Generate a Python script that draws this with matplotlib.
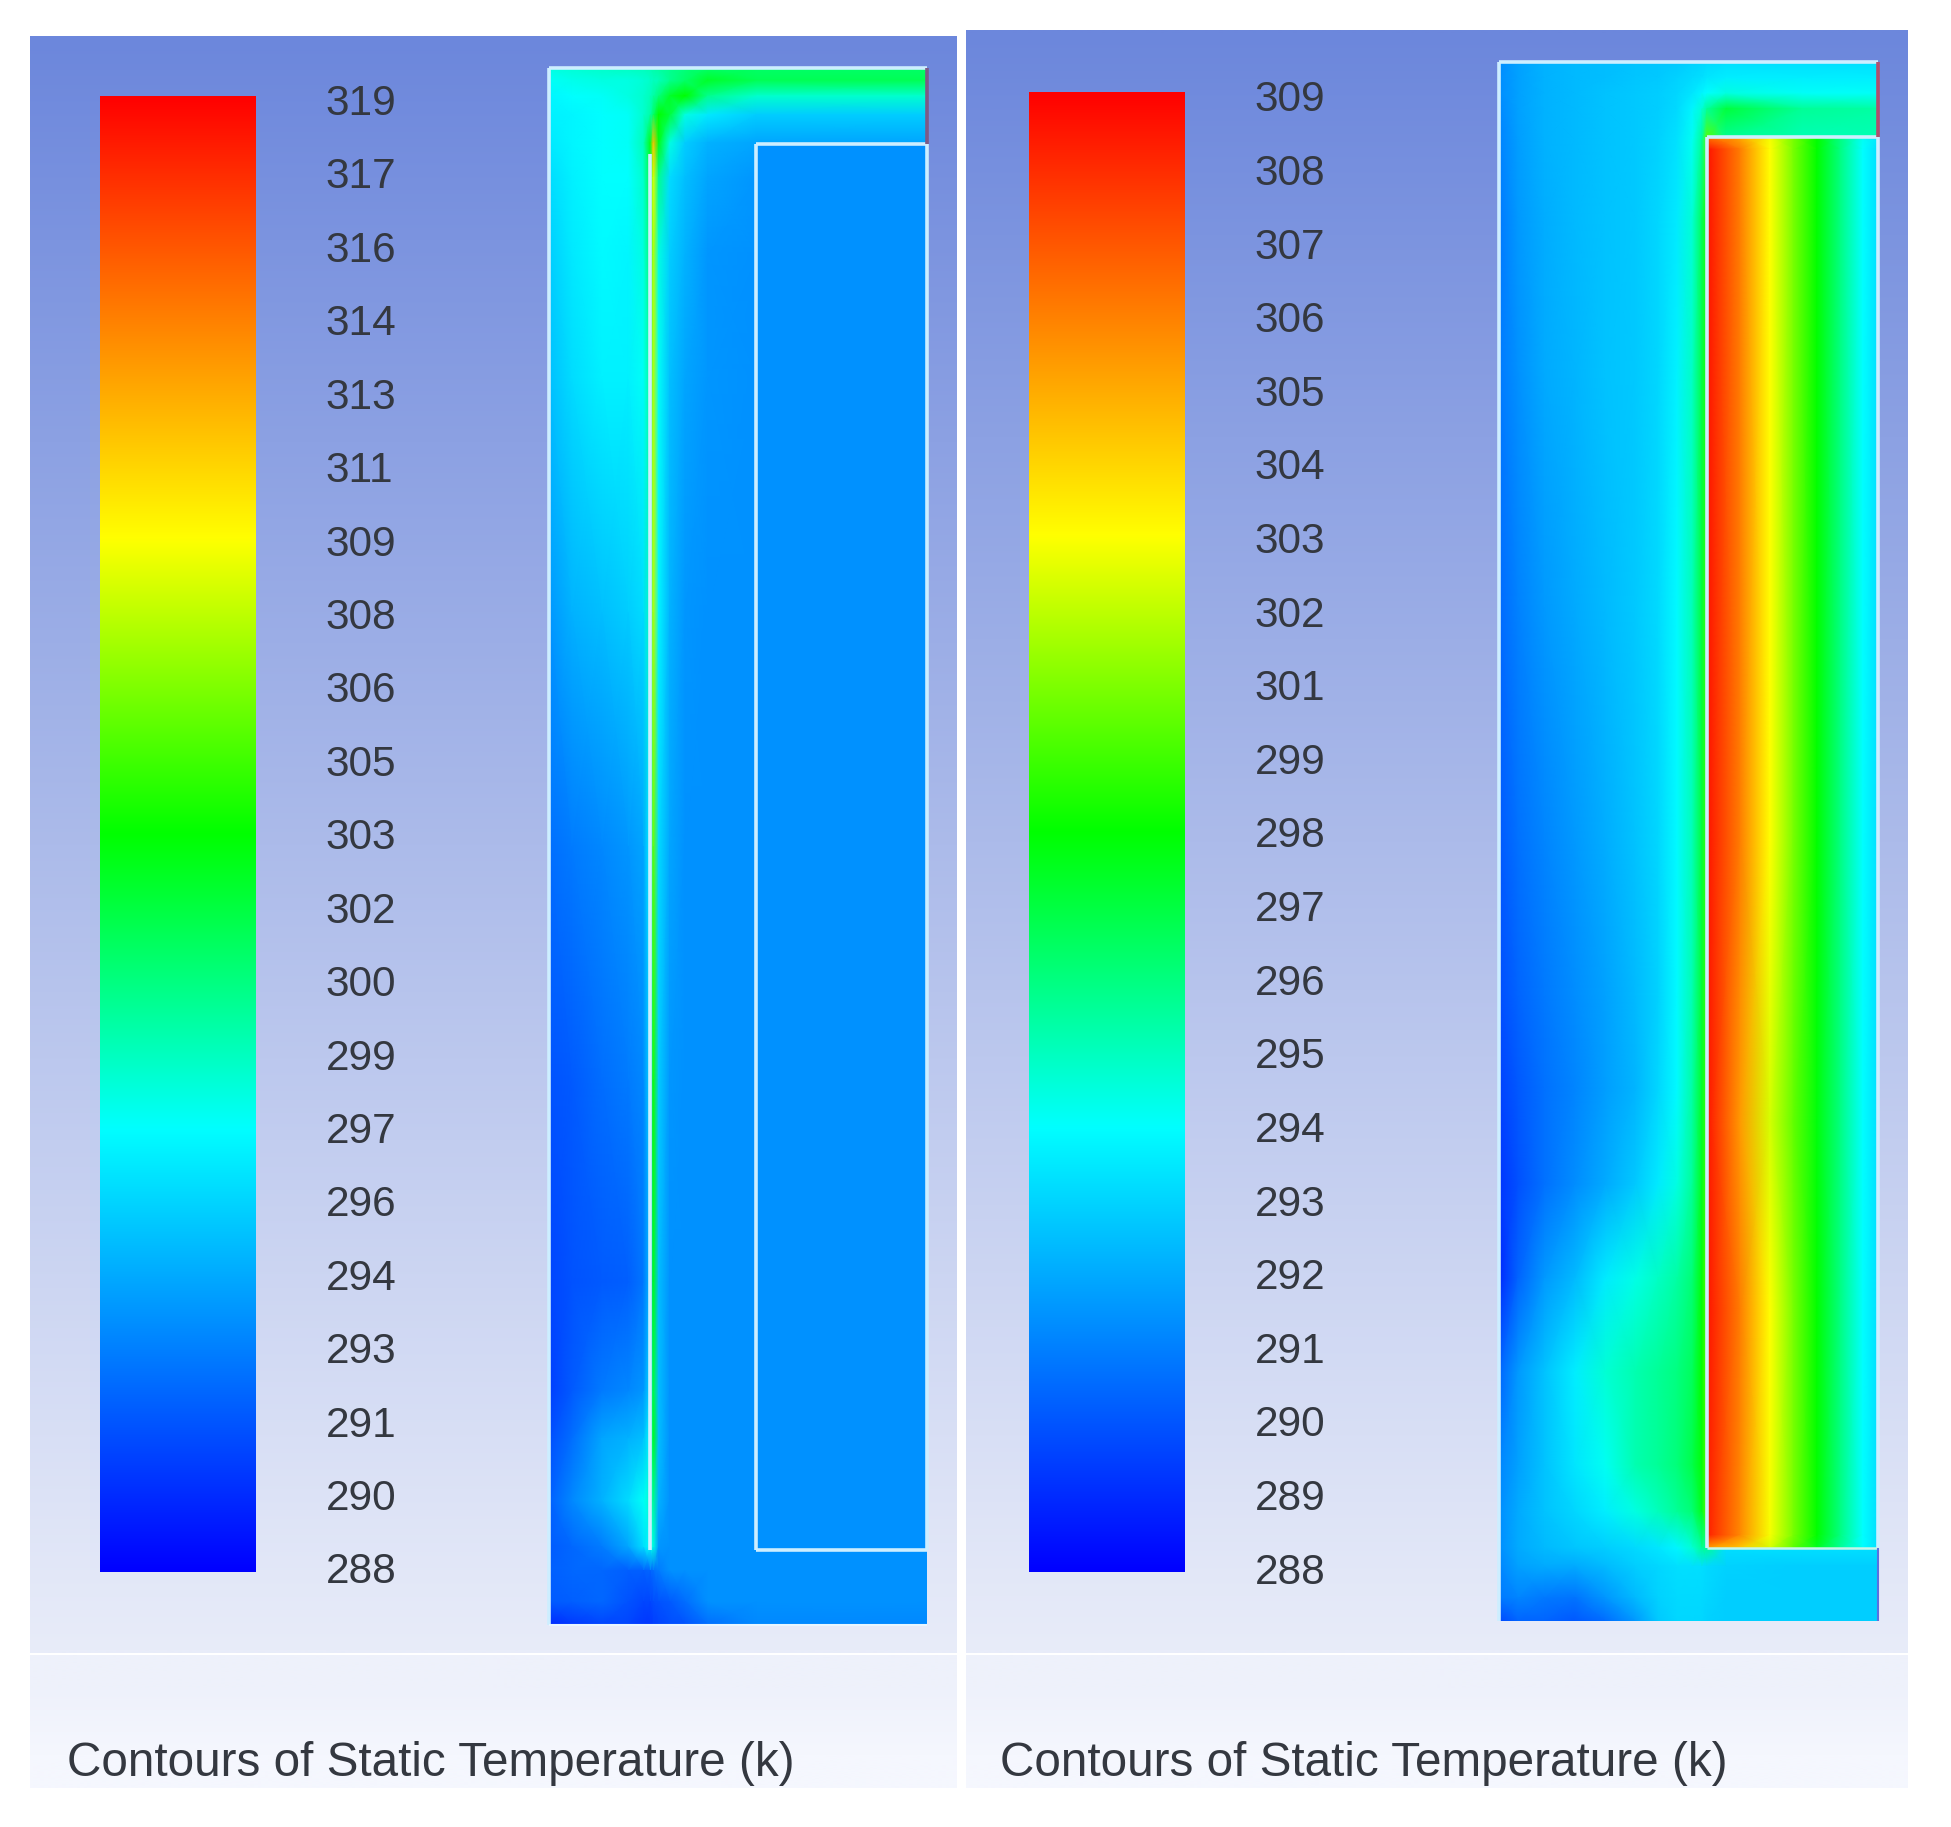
import numpy as np
import matplotlib
matplotlib.use("Agg")
import matplotlib.pyplot as plt
from matplotlib.colors import LinearSegmentedColormap

W, H = 1951, 1827
plt.rcParams['font.family'] = ['Liberation Sans', 'DejaVu Sans']

# ---------- data ----------
TITLE = "Contours of Static Temperature (k)"
LEFT_LABELS = [319,317,316,314,313,311,309,308,306,305,303,302,300,299,297,296,294,293,291,290,288]
RIGHT_LABELS = [309,308,307,306,305,304,303,302,301,299,298,297,296,295,294,293,292,291,290,289,288]

# left plot: temperature (K) on a grid of fractions of the domain
L_X = [0,.06,.14,.21,.25,.268,.276,.29,.32,.36,.42,.55,1]
L_Y = [0,.008,.018,.03,.048,.07,.12,.2,.35,.5,.65,.78,.85,.88,.92,.95,.965,.985,1]
L_T = [
 [298,298.3,298.6,298.8,299,299.2,299.4,299.6,300,300.5,301,301,301],
 [297.5,297.8,298,298,298.3,298.6,298.8,299,300,301,302.5,301.5,301.5],
 [297,297.3,297.5,298,298.5,299,299.5,300.5,302.5,303.5,300,298.5,298.5],
 [296.8,297,297.3,297.5,298.5,299.5,301,303.5,302,298,296.5,295.5,295.5],
 [296.5,297,297.3,297.5,299,303,312,303,298,295.5,294.5,294,294],
 [296,296.8,297.3,297.3,298.5,302,309,300,296,295,294,293.5,293.3],
 [295.5,296.5,297.2,297,298,301,308,298,295.5,294.5,293.5,293.3,293.3],
 [295,296,296.8,296.8,297.5,300,308,297.5,295,294,293.5,293.3,293.3],
 [293.5,294.5,295,295.5,296,299,308,297,294.5,293.5,293.3,293.3,293.3],
 [292,292.5,293,293.5,294,297,306,296,294,293.3,293.3,293.3,293.3],
 [291,291.3,292,292.5,293,296,304,295.5,293.5,293.3,293.3,293.3,293.3],
 [290.5,291,291.3,291.5,292.3,295,303,295,293.3,293.3,293.3,293.3,293.3],
 [290.3,291.3,292.5,293,293.5,296,302,295,293.3,293.3,293.3,293.3,293.3],
 [290.8,292,294,294.5,295,297.5,303,295,293.3,293.3,293.3,293.3,293.3],
 [291.5,293,294.5,296,297.5,298.5,300,294.5,293.3,293.3,293.3,293.3,293.3],
 [291.3,291.8,292.5,294,296,297.5,298,293.5,293.3,293.3,293.3,293.3,293.3],
 [291.5,291.8,291.8,291.5,291.5,291.7,292,292.5,293.3,293.3,293.3,293.3,293.3],
 [291.3,291.5,291.8,291,290.6,290.6,290.8,291,291.3,292,293.3,293.3,293.3],
 [289.5,290,290.5,290.5,290,290,290.3,290.5,290.8,291,292,293,293],
]
L_BOX_T = 293.3

# right plot
R_X = [0,.05,.12,.2,.28,.36,.42,.47,.51,.535,.549,.6,.8,1]
R_Y = [0,.01,.02,.03,.05,.1,.2,.35,.5,.6,.66,.72,.78,.84,.9,.93,.953,.965,.985,1]
R_T = [
 [291.5,292,292.4,292.6,292.7,292.8,292.9,293,293.2,293.3,293.4,293.5,293.5,293.5],
 [291.5,292,292.4,292.6,292.7,292.9,293,293.2,293.4,293.5,293.7,293.9,293.9,293.9],
 [291.5,292,292.4,292.6,292.8,293,293.1,293.3,293.7,294.1,294.3,294.8,294.4,294.4],
 [291.4,292,292.4,292.6,292.8,293,293.1,293.4,294.1,295,296,297.5,296,295.8],
 [291.2,291.9,292.4,292.6,292.8,293,293.2,293.6,294.5,296,300,296,295.5,295.5],
 [291,291.8,292.3,292.6,292.8,293,293.3,293.8,295,297,299,299,299,299],
 [291,291.6,292.2,292.5,292.8,293,293.3,294,295.3,297.3,299,299,299,299],
 [290.6,291.2,291.8,292.2,292.6,293,293.4,294.2,295.5,297.5,299.5,299,299,299],
 [290.2,290.8,291.3,291.8,292.3,292.8,293.3,294.2,295.5,297.5,299.5,299,299,299],
 [289.9,290.5,291,291.5,292,292.6,293.2,294.2,295.6,297.6,299.5,299,299,299],
 [289.6,290.2,290.8,291.3,291.9,292.5,293.3,294.2,295.8,297.8,299.5,299,299,299],
 [289.3,290,290.8,291.5,292.2,293,293.8,294.8,296,298,299.7,299,299,299],
 [289,290.5,291.8,292.6,293.8,294.7,295.3,295.8,296.6,298.3,300,299,299,299],
 [290.5,291.8,292.8,293.9,295,295.6,296,296.4,297,298.5,300,299,299,299],
 [291.3,292,292.8,293.7,294.5,295.6,296,296.5,297.3,298.3,300,299,299,299],
 [291.5,292.2,292.8,293.3,293.9,294.8,295.4,296,296.6,298,300,299,299,299],
 [291.5,292.2,292.6,292.9,293.1,293.4,293.7,294.1,295,296,296,293.5,293.5,293.5],
 [291.3,292,292.2,292.2,292.6,293.1,293.3,293.5,293.5,293.5,293.4,293.2,293.1,293.1],
 [291,291.3,291,290.9,291.7,292.6,293.2,293.4,293.4,293.4,293.3,293.1,293.1,293.1],
 [289.8,290.5,290.5,290.2,290.7,291.8,293,293.3,293.3,293.3,293.2,293.1,293.1,293.1],
]
# right plot: the heated block between the inner-box walls
RB_X = [.549,.557,.636,.715,.776,.839,.9,.96,1]
RB_Y = [.048,.056,.5,.68,.8,.945,.953]
RB_T = [
 [306,306,304.8,302.5,300.5,298.5,296.4,294.5,293.8],
 [308.3,308.3,305.9,302.7,300.5,298.5,296.4,294.3,293.5],
 [308.3,308.3,305.9,302.7,300.5,298.5,296.4,294.3,293.5],
 [308.3,308.2,305.2,302,300.1,298.3,296.4,294.3,293.5],
 [308.3,308.3,305.9,302.7,300.5,298.5,296.4,294.3,293.5],
 [308,308,305.6,302.6,300.5,298.5,296.4,294.3,293.5],
 [305,305,304,302,300,298,296,294.3,293.5],
]
L_RANGE = (288, 319)
R_RANGE = (288, 309)

# ---------- styles ----------
CMAP = LinearSegmentedColormap.from_list("fluent", [(0,"#0000ff"),(.3,"#00ffff"),(.5,"#00ff00"),(.7,"#ffff00"),(1,"#ff0000")], N=512)
LINE = "#cdeeff"
TEXT = "#343840"

fig = plt.figure(figsize=(W/100, H/100), dpi=100, facecolor="white")
bg = fig.add_axes([0,0,1,1])
bg.set_xlim(0,W); bg.set_ylim(H,0); bg.axis("off")

def px_axes(x0,y0,x1,y1,**kw):
    return fig.add_axes([x0/W, 1-y1/H, (x1-x0)/W, (y1-y0)/H], **kw)

def panel(x0,x1,y0,ym,y1):
    grad = np.array([[108,135,220],[172,187,234],[232,236,249]])/255
    pos = np.linspace(0,1,300)
    img = np.stack([np.interp(pos,[0,.5,1],grad[:,i]) for i in range(3)],axis=1)[:,None,:]
    bg.imshow(img,extent=(x0,x1,ym,y0),aspect="auto",interpolation="bilinear",zorder=1)
    foot = np.array([[[238,241,251]],[[245,247,254]]])/255
    bg.imshow(foot,extent=(x0,x1,y1,ym+2),aspect="auto",interpolation="bilinear",zorder=1)

panel(30,957,36,1653,1788)
panel(966,1908,30,1653,1788)
bg.set_xlim(0,W); bg.set_ylim(H,0)

def colorbar(x0,y0,x1,y1,labels,rng,first,last,xpad):
    ax = px_axes(x0,y0,x1,y1)
    n = len(labels)-1
    per = (last-first)/n
    ax.set_ylim((y1-first)/per, (y0-first)/per)
    ax.set_xlim(0,1)
    vals = np.linspace(rng[1],rng[0],512)[:,None]
    ax.imshow(vals,cmap=CMAP,vmin=rng[0],vmax=rng[1],aspect="auto",
              extent=(0,1,(y1-first)/per,(y0-first)/per),interpolation="bilinear")
    ax.set_xticks([])
    ax.yaxis.tick_right()
    ax.set_yticks(range(n+1))
    ax.set_yticklabels([str(v) for v in labels],fontsize=30.5,color=TEXT)
    ax.tick_params(axis="y",length=0,pad=xpad)
    for s in ax.spines.values():
        s.set_visible(False)

colorbar(100,96,256,1572,LEFT_LABELS,L_RANGE,99.5,1568,50)
colorbar(1029,92,1185,1572,RIGHT_LABELS,R_RANGE,96,1568,50)

def domain(x0,y0,x1,y1,xs,ys,T,rng):
    ax = px_axes(x0,y0,x1,y1)
    ax.set_xlim(0,1); ax.set_ylim(1,0); ax.axis("off")
    ax.pcolormesh(xs,ys,np.array(T),shading="gouraud",cmap=CMAP,vmin=rng[0],vmax=rng[1],zorder=1)
    return ax

def draw_lines(ax,segments,color,lw):
    for (xa,ya,xb,yb) in segments:
        ax.plot([xa,xb],[ya,yb],color=color,lw=lw,clip_on=False,zorder=5,solid_capstyle="butt")

# left
axL = domain(549,68,927,1625,L_X,L_Y,L_T,L_RANGE)
LB = (.548,.049,1,.952)
axL.pcolormesh([LB[0],LB[2]],[LB[1],LB[3]],[[L_BOX_T]],cmap=CMAP,vmin=L_RANGE[0],vmax=L_RANGE[1],zorder=2)
draw_lines(axL,[(0,0,1,0),(0,0,0,1),(LB[0],LB[1],1,LB[1]),(LB[0],LB[1],LB[0],LB[3]),
                (LB[0],LB[3],1,LB[3]),(1,LB[1],1,LB[3]),(.266,.055,.266,.952)],LINE,2.6)
draw_lines(axL,[(1,0,1,LB[1])],"#7d5a86",2.6)
draw_lines(axL,[(0,1,1,1)],"#e8f6ff",1.5)

# right
axR = domain(1499,62,1878,1621,R_X,R_Y,R_T,R_RANGE)
axR.pcolormesh(RB_X,RB_Y,np.array(RB_T),shading="gouraud",cmap=CMAP,vmin=R_RANGE[0],vmax=R_RANGE[1],zorder=2)
RB = (RB_X[0],RB_Y[0],1,RB_Y[-1])
draw_lines(axR,[(0,0,1,0),(0,0,0,1),(RB[0],RB[1],1,RB[1]),(RB[0],RB[1],RB[0],RB[3]),(1,RB[1],1,RB[3])],LINE,2.6)
draw_lines(axR,[(RB[0],RB[3],1,RB[3])],"#c5f5e8",1.8)
draw_lines(axR,[(1,0,1,RB[1])],"#b0506e",2.6)
draw_lines(axR,[(1,RB[3],1,1)],"#5a70e0",1.5)

# captions
for x in (67,1000):
    bg.text(x,1764,TITLE,fontsize=34.3,color=TEXT,va="center",ha="left",zorder=6)

fig.savefig("out.png",dpi=100,facecolor="white")
